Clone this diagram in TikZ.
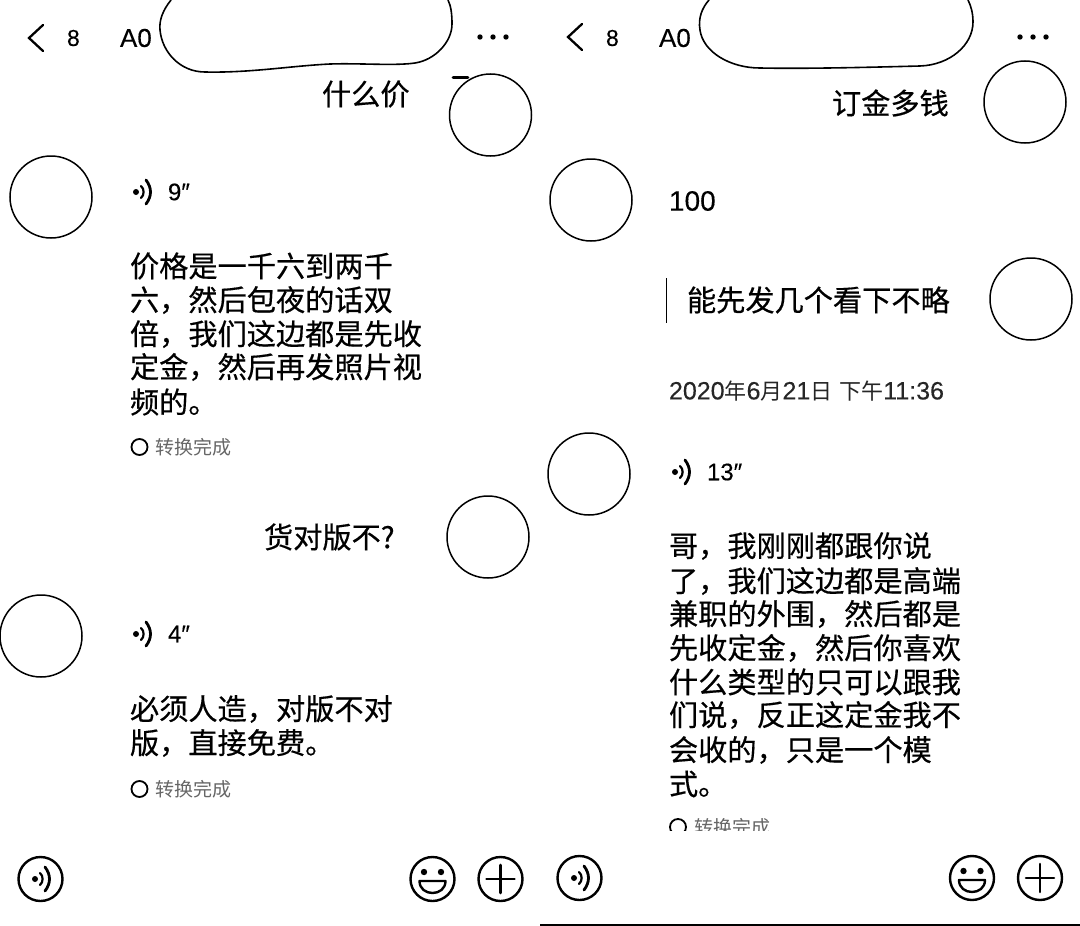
\documentclass[tikz,border=0pt]{standalone}
\usepackage{fontspec}
\setmainfont{Liberation Sans}[FakeBold=0.25]
\newfontfamily\cjk{Noto Sans CJK SC}[FakeBold=0.45]
\newfontfamily\cjkthin{Noto Sans CJK SC}
\begin{document}
\begin{tikzpicture}[x=1pt,y=-1pt,line cap=round,
  msg/.style={anchor=west,inner sep=0pt,outer sep=0pt,font=\fontsize{29.2}{29}\selectfont\cjk,text=black},
  lat/.style={anchor=west,inner sep=0pt,outer sep=0pt,font=\fontsize{24}{24}\selectfont,text=black},
  small/.style={anchor=west,inner sep=0pt,outer sep=0pt,font=\fontsize{19}{19}\selectfont\cjkthin,text=black!60},
  avatar/.style={circle,draw=black,line width=1.5pt,minimum size=82pt,inner sep=0pt},
  icon/.style={circle,draw=black,line width=2.4pt,minimum size=44pt,inner sep=0pt},
  stat/.style={circle,draw=black,line width=1.8pt,minimum size=16pt,inner sep=0pt}]
\useasboundingbox (0,0) rectangle (1080,926);
\fill[white] (0,0) rectangle (1080,926);

\tikzset{
  voice/.pic={
    \fill (0,0) circle (3);
    \draw[line width=2.2pt] (5,-6) .. controls (8.5,-3) and (8.5,3) .. (5,6);
    \draw[line width=2.8pt] (10,-12) .. controls (16,-4) and (16,4) .. (10,12);
  },
  backchev/.pic={
    \draw[line width=2.3pt,line join=miter] (7,-13) -- (-7,0) -- (7,13);
  },
  dotsmenu/.pic={
    \fill (-13,0) circle (2.7); \fill (0,0) circle (2.7); \fill (13,0) circle (2.7);
  },
  smile/.pic={
    \fill (-8.5,-7) circle (3.2); \fill (8.5,-7) circle (3.2);
    \draw[line width=2.4pt,line join=round] (-13,2) -- (13,2) .. controls (13,18) and (-13,18) .. (-13,2) -- cycle;
  },
  plussign/.pic={
    \draw[line width=2.6pt] (-14,0) -- (14,0);
    \draw[line width=2.6pt] (0,-14) -- (0,14);
  },
  voicesmall/.pic={
    \fill (-3,0) circle (3);
    \draw[line width=2.2pt] (2,-6) .. controls (5.5,-3) and (5.5,3) .. (2,6);
    \draw[line width=2.8pt] (7,-12) .. controls (13,-4) and (13,4) .. (7,12);
  }
}

% ===== Left phone =====
\pic at (36,38) {backchev};
\node[lat,font=\fontsize{23}{23}\selectfont] (l8) at (67,38) {8};
\node[lat,font=\fontsize{26}{26}\selectfont] (lA) at (120,38) {A0};
\fill[white,draw=black,line width=1.6pt] (171,0) .. controls (163,10) and (159,20) .. (160,30)
  .. controls (162,52) and (180,72) .. (205,72)
  .. controls (250,73) and (290,66) .. (330,64)
  .. controls (360,63) and (395,66) .. (415,63)
  .. controls (435,60) and (452,42) .. (452,24)
  .. controls (452,14) and (451,6) .. (448,0);
\pic at (493,37) {dotsmenu};

\node[msg] (l1) at (322,94) {什么价};
\draw[line width=2.6pt] (453,77.5) -- (468,77.5);
\node[avatar] (la1) at (490.5,115) {};
\node[avatar] (la2) at (51,197) {};
\pic at (139,192) {voicesmall};
\node[lat] (ld1) at (168,192) {9″};

\node[msg] (l2a) at (130,266) {价格是一千六到两千};
\node[msg] (l2b) at (130,300) {六，然后包夜的话双};
\node[msg] (l2c) at (130,334) {倍，我们这边都是先收};
\node[msg] (l2d) at (130,367) {定金，然后再发照片视};
\node[msg] (l2e) at (130,402) {频的。};
\node[stat] (ls1) at (139.5,447) {};
\node[small] (lt1) at (155,447) {转换完成};

\node[msg] (l3) at (264,537) {货对版不?};
\node[avatar] (la3) at (488,537) {};
\node[avatar] (la4) at (41,636) {};
\pic at (139,634) {voicesmall};
\node[lat] (ld2) at (168,634) {4″};

\node[msg] (l4a) at (130,709) {必须人造，对版不对};
\node[msg] (l4b) at (130,743) {版，直接免费。};
\node[stat] (ls2) at (139.5,789) {};
\node[small] (lt2) at (155,789) {转换完成};

\node[icon] (li1) at (40.5,879) {};
\pic at (35,879) {voice};
\node[icon] (li2) at (432.5,879) {};
\pic at (432.5,879) {smile};
\node[icon] (li3) at (500.5,879) {};
\pic at (500.5,879) {plussign};

% ===== Right phone =====
\pic at (575,37) {backchev};
\node[lat,font=\fontsize{23}{23}\selectfont] (r8) at (606,38) {8};
\node[lat,font=\fontsize{26}{26}\selectfont] (rA) at (659,38) {A0};
\fill[white,draw=black,line width=1.6pt] (709,0) .. controls (702,8) and (698,18) .. (700,30)
  .. controls (703,52) and (730,68) .. (760,68)
  .. controls (810,69) and (880,67) .. (920,66)
  .. controls (950,65) and (973,45) .. (973,22)
  .. controls (973,13) and (971,6) .. (968,0);
\pic at (1033,37) {dotsmenu};

\node[msg] (r1) at (832,103) {订金多钱};
\node[avatar] (ra1) at (1025,102) {};
\node[avatar] (ra2) at (591,200) {};
\node[lat,font=\fontsize{28}{28}\selectfont] (r100) at (669,201) {100};

\draw[line width=1pt,line cap=butt] (666.5,278) -- (666.5,323);
\node[msg] (r2) at (687,300) {能先发几个看下不略};
\node[avatar] (ra3) at (1031,299) {};

\node[lat,font=\fontsize{25}{25}\selectfont,text=black!85] (rdate) at (669,391) {2020{\fontsize{22}{22}\selectfont\cjkthin 年}6{\fontsize{22}{22}\selectfont\cjkthin 月}21{\fontsize{22}{22}\selectfont\cjkthin 日} {\fontsize{22}{22}\selectfont\cjkthin 下午}11:36};

\node[avatar] (ra4) at (589,474) {};
\pic at (678,472) {voicesmall};
\node[lat] (rd1) at (707,472) {13″};

\node[msg] (r3a) at (669,546) {哥，我刚刚都跟你说};
\node[msg] (r3b) at (669,581) {了，我们这边都是高端};
\node[msg] (r3c) at (669,614) {兼职的外围，然后都是};
\node[msg] (r3d) at (669,648) {先收定金，然后你喜欢};
\node[msg] (r3e) at (669,682) {什么类型的只可以跟我};
\node[msg] (r3f) at (669,715) {们说，反正这定金我不};
\node[msg] (r3g) at (669,750) {会收的，只是一个模};
\node[msg] (r3h) at (669,784) {式。};

\begin{scope}
\clip (660,815) rectangle (800,830);
\node[stat] (rs1) at (678,827) {};
\node[small] (rt1) at (694,827) {转换完成};
\end{scope}

\node[icon] (ri1) at (579.5,878) {};
\pic at (574,878) {voice};
\node[icon] (ri2) at (972,878) {};
\pic at (972,878) {smile};
\node[icon] (ri3) at (1040,878) {};
\pic at (1040,878) {plussign};

\draw[line width=1.6pt,line cap=butt] (540,925.2) -- (1080,925.2);
\end{tikzpicture}
\end{document}
